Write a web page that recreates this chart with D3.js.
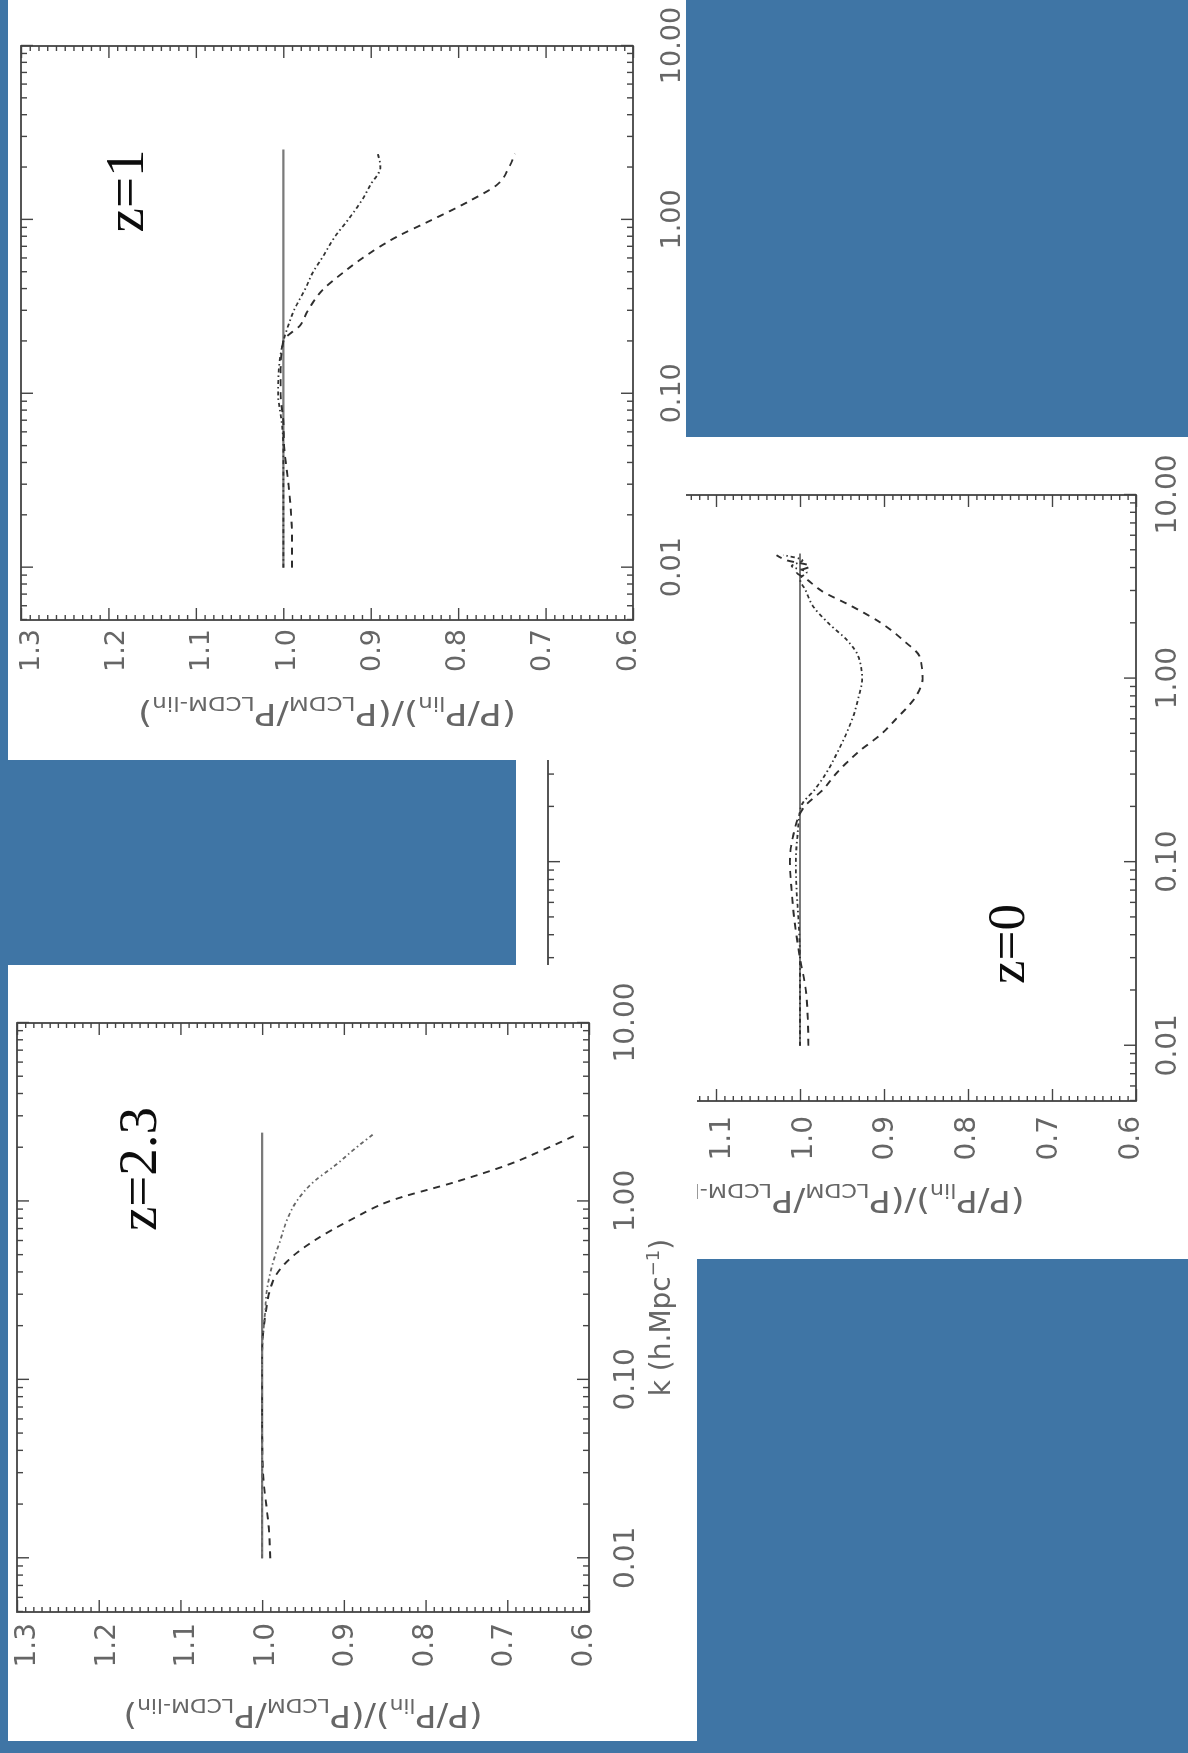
<!DOCTYPE html>
<html>
<head>
<meta charset="utf-8">
<script src="https://cdnjs.cloudflare.com/ajax/libs/d3/7.8.5/d3.min.js"></script>
<style>
  html, body { margin: 0; padding: 0; background: #3f75a5; }
  svg { display: block; }
</style>
</head>
<body>
<div id="chart"></div>
<script>
// tick values shared by all three panels
const kMajor = [0.01, 0.1, 1, 10];
const ratioMajor = [0.6, 0.7, 0.8, 0.9, 1.0, 1.1, 1.2, 1.3];

// z = 1
const kZ1 = [0.01, 0.015, 0.02, 0.03, 0.05, 0.07, 0.1, 0.14, 0.2, 0.25, 0.3, 0.4, 0.5, 0.6, 0.8, 1.0, 1.3, 1.6, 2.0, 2.4];
const z1DashDot = [1.0, 1.0, 1.0, 1.0, 1.0, 1.002, 1.006, 1.005, 1.0, 0.994, 0.988, 0.975, 0.966, 0.956, 0.941, 0.926, 0.91, 0.9, 0.889, 0.892];
const z1Dashed = [0.99, 0.99, 0.991, 0.994, 0.999, 1.0, 1.003, 1.003, 1.0, 0.98, 0.972, 0.954, 0.931, 0.91, 0.87, 0.83, 0.785, 0.755, 0.742, 0.735];
const z1SolidK = [0.01, 2.54];

// z = 2.3
const kZ23 = [0.01, 0.015, 0.02, 0.03, 0.05, 0.07, 0.1, 0.14, 0.2, 0.25, 0.3, 0.4, 0.5, 0.6, 0.8, 1.0, 1.3, 1.6, 2.0, 2.4];
const z23DashDot = [1.0, 1.0, 1.0, 1.0, 1.0, 1.0, 1.0, 1.0, 0.998, 0.996, 0.995, 0.99, 0.984, 0.978, 0.969, 0.958, 0.936, 0.91, 0.885, 0.863];
const z23Dashed = [0.99, 0.992, 0.995, 0.999, 1.0, 1.0, 1.0, 1.0, 0.998, 0.995, 0.992, 0.981, 0.961, 0.937, 0.889, 0.845, 0.76, 0.70, 0.65, 0.612];
const z23SolidK = [0.01, 2.43];

// z = 0
const kZ0 = [0.01, 0.015, 0.02, 0.03, 0.05, 0.07, 0.1, 0.14, 0.2, 0.25, 0.3, 0.4, 0.5, 0.6, 0.8, 1.0, 1.3, 1.6, 2.0, 2.5, 3.0, 3.5, 3.8, 4.1, 4.4, 4.7];
const z0DashDot = [1.0, 1.0, 1.0, 1.0, 1.002, 1.004, 1.005, 1.003, 0.999, 0.982, 0.97, 0.955, 0.945, 0.938, 0.93, 0.926, 0.93, 0.943, 0.966, 0.985, 0.993, 1.0, 0.992, 1.01, 0.997, 1.02];
const z0Dashed = [0.99, 0.991, 0.993, 1.0, 1.007, 1.01, 1.012, 1.008, 0.995, 0.972, 0.958, 0.93, 0.903, 0.886, 0.862, 0.854, 0.857, 0.876, 0.903, 0.94, 0.974, 0.993, 1.004, 0.988, 1.015, 1.028];
const z0SolidK = [0.01, 4.8];

const BLUE = '#3f75a5';
const INK = '#444';
const LABEL = '#666';

const kMinor = [];
[0.001, 0.01, 0.1, 1].forEach(dec => {
  for (let m = 2; m <= 9; m++) {
    const v = +(dec * m).toPrecision(3);
    if (v >= 0.005 && v <= 10) kMinor.push(v);
  }
});
const ratioMinor = d3.range(60, 131).map(v => v / 100)
  .filter(v => !ratioMajor.some(m => Math.abs(m - v) < 1e-6));

const svg = d3.select('#chart').append('svg')
  .attr('width', 1188)
  .attr('height', 1753);

svg.append('defs').append('filter').attr('id', 'soft')
  .append('feGaussianBlur').attr('stdDeviation', 0.45);

svg.append('rect').attr('width', 1188).attr('height', 1753).attr('fill', BLUE);

function drawPanel(cfg) {
  const { px, py, W, H } = cfg;

  svg.select('defs').append('clipPath').attr('id', `clip-${cfg.id}`)
    .append('rect')
    .attr('x', cfg.clip[0]).attr('y', cfg.clip[1])
    .attr('width', cfg.clip[2]).attr('height', cfg.clip[3]);

  const holder = svg.append('g').attr('clip-path', `url(#clip-${cfg.id})`);
  holder.append('rect')
    .attr('x', cfg.clip[0]).attr('y', cfg.clip[1])
    .attr('width', cfg.clip[2]).attr('height', cfg.clip[3])
    .attr('fill', '#fff');

  // plot drawn upright, then turned a quarter to the left
  const g = holder.append('g')
    .attr('transform', `translate(${px},${py}) rotate(-90)`)
    .attr('filter', 'url(#soft)');

  const x = d3.scaleLog().domain([0.005, 10]).range([0, W]);
  const y = d3.scaleLinear().domain([0.6, 1.3]).range([H, 0]);

  const styleAxis = sel => {
    sel.select('.domain').remove();
    sel.selectAll('line').attr('stroke', INK).attr('stroke-width', 1.4);
    sel.attr('font-family', '"DejaVu Sans", sans-serif')
      .attr('font-size', cfg.fs);
    sel.selectAll('text').attr('fill', LABEL);
  };

  // k axis (bottom with labels, top bare)
  g.append('g').attr('transform', `translate(0,${H})`)
    .call(d3.axisBottom(x).tickValues(kMinor).tickSize(-6).tickFormat(''))
    .call(styleAxis);
  const kAx = g.append('g').attr('transform', `translate(0,${H})`)
    .call(d3.axisBottom(x).tickValues(kMajor).tickSize(-12).tickFormat(d3.format('.2f')))
    .call(styleAxis);
  kAx.selectAll('text').attr('y', cfg.kLabelY).attr('dy', 0);

  g.append('g')
    .call(d3.axisTop(x).tickValues(kMinor).tickSize(-6).tickFormat(''))
    .call(styleAxis);
  g.append('g')
    .call(d3.axisTop(x).tickValues(kMajor).tickSize(-12).tickFormat(''))
    .call(styleAxis);

  // ratio axis (left with labels, right bare)
  g.append('g')
    .call(d3.axisLeft(y).tickValues(ratioMinor).tickSize(-5).tickFormat(''))
    .call(styleAxis);
  const rAx = g.append('g')
    .call(d3.axisLeft(y).tickValues(ratioMajor).tickSize(-12).tickFormat(d3.format('.1f')))
    .call(styleAxis);
  rAx.selectAll('text')
    .attr('x', -cfg.rLabelX)
    .attr('y', d => (d - 0.95) * 22)
    .attr('dy', '0.36em');

  g.append('g').attr('transform', `translate(${W},0)`)
    .call(d3.axisRight(y).tickValues(ratioMinor).tickSize(-5).tickFormat(''))
    .call(styleAxis);
  g.append('g').attr('transform', `translate(${W},0)`)
    .call(d3.axisRight(y).tickValues(ratioMajor).tickSize(-12).tickFormat(''))
    .call(styleAxis);

  g.append('rect')
    .attr('width', W).attr('height', H)
    .attr('fill', 'none')
    .attr('stroke', INK)
    .attr('stroke-width', 1.8);

  const line = d3.line()
    .x(d => x(d[0]))
    .y(d => y(d[1]))
    .curve(d3.curveMonotoneX);

  g.append('path')
    .datum(cfg.solidK.map(k => [k, 1.0]))
    .attr('d', line)
    .attr('fill', 'none')
    .attr('stroke', '#7a7a7a')
    .attr('stroke-width', 2.2);

  g.append('path')
    .datum(cfg.k.map((k, i) => [k, cfg.dashed[i]]))
    .attr('d', line)
    .attr('fill', 'none')
    .attr('stroke', '#2e2e2e')
    .attr('stroke-width', 1.9)
    .attr('stroke-dasharray', '7,6');

  g.append('path')
    .datum(cfg.k.map((k, i) => [k, cfg.dashDot[i]]))
    .attr('d', line)
    .attr('fill', 'none')
    .attr('stroke', cfg.dashDotColor)
    .attr('stroke-width', 1.8)
    .attr('stroke-dasharray', '4,3,1.5,3');

  // redshift label
  g.append('text')
    .attr('x', cfg.zPos[0])
    .attr('y', cfg.zPos[1])
    .attr('text-anchor', 'middle')
    .attr('font-family', '"Liberation Serif", "Times New Roman", serif')
    .attr('font-size', cfg.zSize)
    .attr('fill', '#111')
    .text(cfg.label);

  // y title
  const yt = g.append('text')
    .attr('transform', `translate(${-cfg.yTitleX},${H / 2}) rotate(-90)`)
    .attr('text-anchor', 'middle')
    .attr('font-family', '"DejaVu Sans", sans-serif')
    .attr('font-size', 30)
    .attr('fill', LABEL)
    .attr('textLength', cfg.yTitleLen)
    .attr('lengthAdjust', 'spacingAndGlyphs');
  const parts = [['(P/P', false], ['lin', true], [')/(P', false], ['LCDM', true],
    ['/P', false], ['LCDM-lin', true], [')', false]];
  parts.forEach(([t, sub], i) => {
    const prevSub = i > 0 && parts[i - 1][1];
    yt.append('tspan')
      .attr('font-size', sub ? 19 : 30)
      .attr('dy', sub ? 7 : (prevSub ? -7 : 0))
      .text(t);
  });

  // k title (only the z=2.3 one is inside its picture)
  if (cfg.kTitle) {
    const xt = g.append('text')
      .attr('x', W / 2)
      .attr('y', H + cfg.kTitleY)
      .attr('text-anchor', 'middle')
      .attr('font-family', '"DejaVu Sans", sans-serif')
      .attr('font-size', 28)
      .attr('fill', LABEL);
    xt.append('tspan').text('k (h.Mpc');
    xt.append('tspan').attr('font-size', 18).attr('dy', -11).text('\u22121');
    xt.append('tspan').attr('dy', 11).text(')');
  }
}

// z=0 image sits underneath the other two
drawPanel({
  id: 'z0', label: 'z=0',
  px: 548, py: 1101, W: 606, H: 588,
  clip: [516, 437, 672, 822],
  k: kZ0, dashDot: z0DashDot, dashed: z0Dashed, solidK: z0SolidK,
  dashDotColor: '#333',
  fs: 28, kLabelY: 40, rLabelX: 15,
  zPos: [157, 476], zSize: 53,
  yTitleX: 90, yTitleLen: 365, kTitle: false
});

drawPanel({
  id: 'z1', label: 'z=1',
  px: 21, py: 620, W: 574, H: 612,
  clip: [8, 0, 678, 760],
  k: kZ1, dashDot: z1DashDot, dashed: z1Dashed, solidK: z1SolidK,
  dashDotColor: '#333',
  fs: 27, kLabelY: 47, rLabelX: 9,
  zPos: [429, 122], zSize: 55,
  yTitleX: 84, yTitleLen: 378, kTitle: false
});

drawPanel({
  id: 'z23', label: 'z=2.3',
  px: 17, py: 1612, W: 589, H: 572,
  clip: [8, 965, 689, 776],
  k: kZ23, dashDot: z23DashDot, dashed: z23Dashed, solidK: z23SolidK,
  dashDotColor: '#666',
  fs: 28, kLabelY: 45, rLabelX: 11,
  zPos: [443, 139], zSize: 55,
  yTitleX: 94, yTitleLen: 359, kTitle: true, kTitleY: 81
});
</script>
</body>
</html>
